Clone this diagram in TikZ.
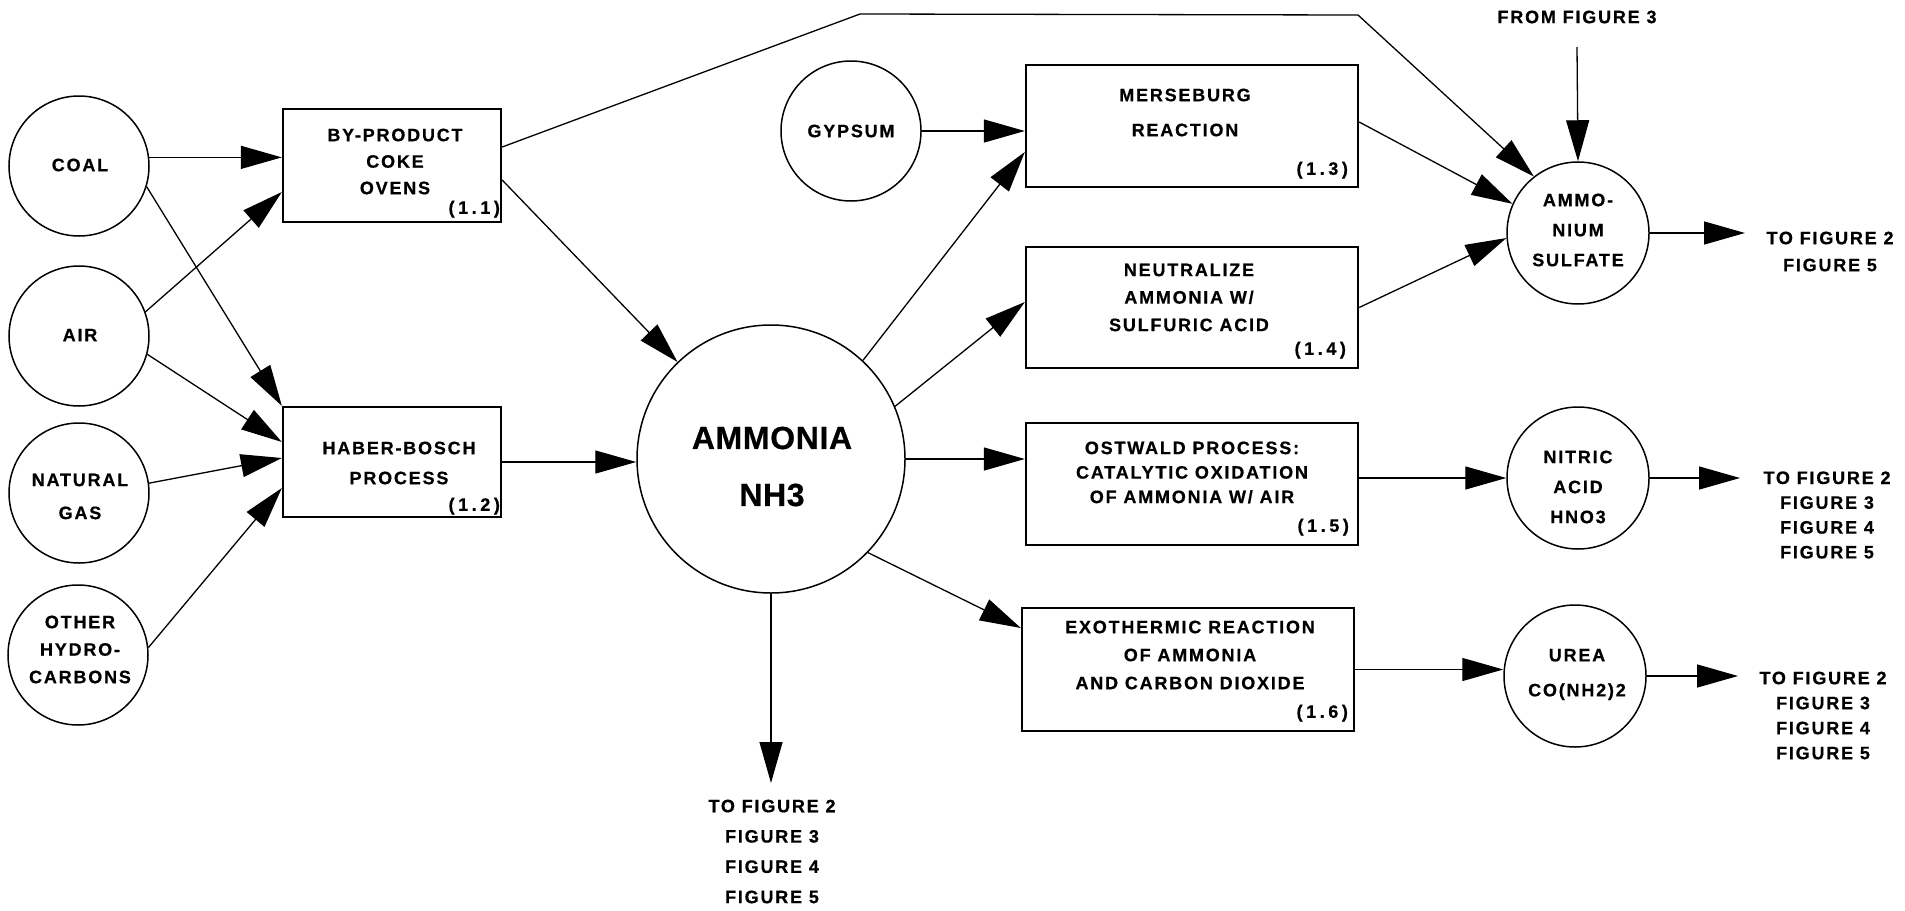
\documentclass[tikz,border=0pt]{standalone}
\usepackage{fontspec}
\setmainfont{Liberation Sans}[LetterSpace=10,BoldFeatures={FakeBold=0.6}]
\usetikzlibrary{arrows.meta}
\newcommand\lfs[1]{\fontsize{18}{#1}\selectfont\bfseries}
\begin{document}
\begin{tikzpicture}[x=1pt,y=-1pt,
  src/.style={circle,draw,line width=1.5pt,minimum size=140pt,inner sep=0pt},
  proc/.style={rectangle,draw,line width=2.3pt,inner sep=0pt},
  txt/.style={align=center,inner sep=0pt},
  num/.style={anchor=east,inner sep=0pt,font=\fontsize{18}{20}\selectfont\bfseries\addfontfeature{LetterSpace=20}},
  flow/.style={line width=1.3pt,-{Triangle[length=41pt,width=23pt]}}]

\useasboundingbox (0,0) rectangle (1905,910);

% raw materials
\node[src] (coal)  at (79,166) {};
\node[src] (air)   at (79,336) {};
\node[src] (ngas)  at (79,493) {};
\node[src] (other) at (78,655) {};
\node[txt,font=\lfs{27}] (coal-t)  at (80,165)   {COAL};
\node[txt,font=\lfs{27}] (air-t)   at (80,335)   {AIR};
\node[txt,font=\lfs{33}] (ngas-t)  at (80,496.5) {NATURAL\\GAS};
\node[txt,font=\lfs{27.5}] (other-t) at (80,649.5) {OTHER\\HYDRO-\\CARBONS};

% first-stage processes
\node[proc,minimum width=218pt,minimum height=113pt] (bp) at (392,165.5) {};
\node[proc,minimum width=218pt,minimum height=110pt] (hb) at (392,462) {};
\node[txt,font=\lfs{26.5}] (bp-t) at (395,161.5) {BY-PRODUCT\\COKE\\OVENS};
\node[txt,font=\lfs{30}] (hb-t) at (399,463) {HABER-BOSCH\\PROCESS};
\node[num] (bp-n) at ([xshift=-2pt,yshift=14pt]bp.south east) {(1.1)};
\node[num] (hb-n) at ([xshift=-2pt,yshift=12pt]hb.south east) {(1.2)};

% ammonia
\node[src,minimum size=268pt] (amm) at (771,459) {};
\node[txt,font=\fontsize{32}{57}\selectfont\bfseries\addfontfeature{LetterSpace=2}] (amm-t) at (772,466.5) {AMMONIA\\NH3};

% gypsum
\node[src] (gyp) at (851,131) {};
\node[txt,font=\lfs{27}] (gyp-t) at (851,131) {GYPSUM};

% second-stage processes
\node[proc,minimum width=332pt,minimum height=122pt] (mer) at (1192,126) {};
\node[proc,minimum width=332pt,minimum height=121pt] (neu) at (1192,307.5) {};
\node[proc,minimum width=332pt,minimum height=122pt] (ost) at (1192,484) {};
\node[proc,minimum width=332pt,minimum height=123pt] (exo) at (1188,669.5) {};
\node[txt,font=\lfs{35}] (mer-t) at (1185,112.5) {MERSEBURG\\REACTION};
\node[txt,font=\lfs{27.5}] (neu-t) at (1189,297.5) {NEUTRALIZE\\AMMONIA W/\\SULFURIC ACID};
\node[txt,font=\lfs{24.5}] (ost-t) at (1192,472.5) {OSTWALD PROCESS:\\CATALYTIC OXIDATION\\OF AMMONIA W/ AIR};
\node[txt,font=\lfs{28}] (exo-t) at (1190,655) {EXOTHERMIC REACTION\\OF AMMONIA\\AND CARBON DIOXIDE};
\node[num] (mer-n) at ([xshift=-11pt,yshift=18pt]mer.south east) {(1.3)};
\node[num] (neu-n) at ([xshift=-13pt,yshift=19pt]neu.south east) {(1.4)};
\node[num] (ost-n) at ([xshift=-10pt,yshift=19pt]ost.south east) {(1.5)};
\node[num] (exo-n) at ([xshift=-7pt,yshift=19pt]exo.south east) {(1.6)};

% products
\node[src,minimum size=142pt] (sulf) at (1578,233) {};
\node[src,minimum size=142pt] (nit)  at (1578,478) {};
\node[src,minimum size=142pt] (urea) at (1575,676) {};
\node[txt,font=\lfs{30}] (sulf-t) at (1578,230) {AMMO-\\NIUM\\SULFATE};
\node[txt,font=\lfs{30}] (nit-t)  at (1578,487) {NITRIC\\ACID\\HNO3};
\node[txt,font=\lfs{35}] (urea-t) at (1577,674.5) {UREA\\CO(NH2)2};

% references to other figures
\node[txt,font=\lfs{27}] (from-t) at (1577,17) {FROM FIGURE 3};
\node[txt,font=\lfs{27}] (sulf-r) at (1830,251.5) {TO FIGURE 2\\FIGURE 5};
\node[txt,font=\lfs{24.8}] (nit-r) at (1827,515) {TO FIGURE 2\\FIGURE 3\\FIGURE 4\\FIGURE 5};
\node[txt,font=\lfs{25}] (urea-r) at (1823,715.5) {TO FIGURE 2\\FIGURE 3\\FIGURE 4\\FIGURE 5};
\node[txt,font=\lfs{30.3}] (amm-r) at (772,851.5) {TO FIGURE 2\\FIGURE 3\\FIGURE 4\\FIGURE 5};

% free ends and bends
\coordinate (bend1) at (860,14);
\coordinate (bend2) at (1358,15);
\coordinate (downend) at (771,783);
\coordinate (fromtop) at (1577,47);
\coordinate (sulfout) at (1745,233);
\coordinate (nitout) at (1740,478);
\coordinate (ureaout) at (1738,676);

% flows
\draw[flow] (coal.7) -- (coal.7 -| bp.west);
\draw[flow] (coal.-17) -- (hb.north west);
\draw[flow] (air.20) -- ([yshift=-26.5pt]bp.west);
\draw[flow] (air.-15) -- ([yshift=20pt]hb.west);
\draw[flow] (ngas.8) -- ([yshift=4pt]hb.west);
\draw[flow] (other.6) -- ([yshift=-26pt]hb.west);
\draw[flow] ([yshift=-14.5pt]bp.east) -- (amm);
\draw[flow] ([yshift=18.5pt]bp.east) -- (bend1) -- (bend2) -- (sulf.128);
\draw[flow] (hb.east) -- (hb.east -| amm.west);
\draw[flow] (gyp.east) -- (gyp.east -| mer.west);
\draw[flow] (amm.47) -- ([yshift=-26pt]mer.west);
\draw[flow] (amm.23) -- ([yshift=5.5pt]neu.west);
\draw[flow] (amm.east) -- (amm.east -| ost.west);
\draw[flow] (amm.-44) -- ([yshift=41.5pt]exo.west);
\draw[flow] (amm.south) -- (downend);
\draw[flow] ([yshift=4pt]mer.east) -- (sulf.156);
\draw[flow] (neu.east) -- (sulf.184);
\draw[flow] (nit.west -| ost.east) -- (nit.west);
\draw[flow] (exo.east) -- (exo.east -| urea.west);
\draw[flow] (sulf.east) -- (sulfout);
\draw[flow] (nit.east) -- (nitout);
\draw[flow] (urea.east) -- (ureaout);
\draw[flow] (fromtop) -- (sulf.north);
\end{tikzpicture}
\end{document}
